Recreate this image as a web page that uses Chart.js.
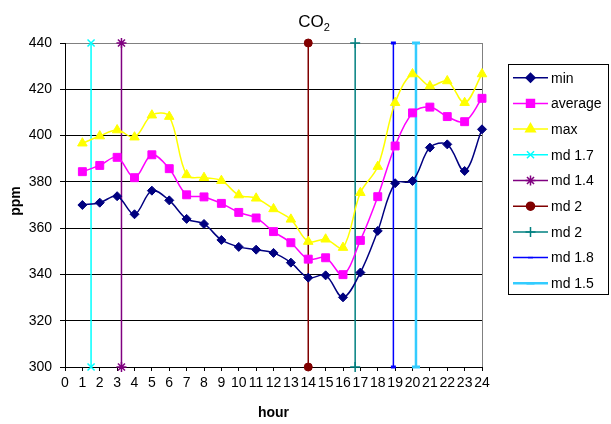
<!DOCTYPE html>
<html><head><meta charset="utf-8">
<script src="https://cdn.jsdelivr.net/npm/chart.js@4/dist/chart.umd.min.js"></script>
<style>html,body{margin:0;padding:0;background:#fff}</style>
</head><body>
<canvas id="c" width="611" height="424" style="width:611px;height:424px;display:block"></canvas>
<script>
const hours = [1,2,3,4,5,6,7,8,9,10,11,12,13,14,15,16,17,18,19,20,21,22,23,24];
const minVals = [370,371,373.8,366,376.2,372,364,361.8,354.9,351.9,350.7,349.3,345.1,338.6,339.6,330.1,340.8,358.8,379.4,380.4,394.8,396.2,384.7,402.7];
const avgVals = [384.4,387.1,390.6,381.8,391.7,385.7,374.4,373.5,370.7,366.8,364.4,358.5,353.7,346.6,347.2,339.9,354.7,373.6,395.5,409.8,412.3,408.2,406,416.1];
const maxVals = [396.7,399.8,402.4,399.3,408.8,408.2,383,381.8,380.5,374.3,372.9,368.3,363.8,354.2,355.2,351.6,375.3,386.6,414.2,426.6,421.4,423.6,414.2,426.6];
const markerNames = ['md 1.7','md 1.4','md 2','md 2','md 1.8','md 1.5'];
const markerHours = [1.5,3.25,14,16.7,18.9,20.2];
const markerRange = [300,440];
const xTicks = [0,1,2,3,4,5,6,7,8,9,10,11,12,13,14,15,16,17,18,19,20,21,22,23,24];
const yTicks = [300,320,340,360,380,400,420,440];

const FONT = '"Liberation Sans", Arial, sans-serif';

function series(label, vals, color, style, radius) {
  return {
    label, data: hours.map((h,i)=>({x:h,y:vals[i]})),
    borderColor: color, backgroundColor: color,
    pointBackgroundColor: color, pointBorderColor: color,
    pointStyle: style, pointRadius: radius, pointHoverRadius: radius,
    pointBorderWidth: 1, borderWidth: 1.5, tension: 0.35, clip: false
  };
}
const mdStyles = [
  {color:'#00FFFF', style:'crossRot', r:5, pbw:1.5, bw:1.5},
  {color:'#800080', style:'star', r:5, pbw:1.5, bw:1.5},
  {color:'#800000', style:'circle', r:4, pbw:1, bw:1.5},
  {color:'#008080', style:'cross', r:5, pbw:1.5, bw:1.5},
  {color:'#0000FF', style:'line', r:2.5, pbw:3, bw:1.5},
  {color:'#33CCFF', style:'line', r:4, pbw:3, bw:2.5}
];
const datasets = [
  series('min', minVals, '#000080', 'rectRot', 4.5),
  series('average', avgVals, '#FF00FF', 'rect', 5.6),
  series('max', maxVals, '#FFFF00', 'triangle', 5.5)
];
markerNames.forEach((n,i)=>{
  const s = mdStyles[i];
  datasets.push({
    label: n,
    data: markerRange.map(v=>({x:markerHours[i], y:v})),
    borderColor: s.color, backgroundColor: s.color,
    pointBackgroundColor: s.color, pointBorderColor: s.color,
    pointStyle: s.style, pointRadius: s.r, pointHoverRadius: s.r,
    pointBorderWidth: s.pbw, borderWidth: s.bw, tension: 0, clip: false
  });
});

const deco = {
  id: 'deco',
  beforeDatasetsDraw(chart) {
    const {ctx, chartArea:a} = chart;
    ctx.save();
    ctx.strokeStyle = '#808080'; ctx.lineWidth = 1;
    ctx.beginPath();
    ctx.moveTo(Math.round(a.right)+0.5, a.top);
    ctx.lineTo(Math.round(a.right)+0.5, a.bottom);
    ctx.stroke();
    ctx.restore();
  },
  afterDraw(chart) {
    const {ctx, chartArea:a} = chart;
    ctx.save();
    ctx.fillStyle = '#000';
    // title CO2
    ctx.font = '17px ' + FONT;
    ctx.textBaseline = 'alphabetic';
    ctx.textAlign = 'left';
    const w1 = ctx.measureText('CO').width;
    ctx.font = '11px ' + FONT;
    const w2 = ctx.measureText('2').width;
    const x0 = 314 - (w1 + w2) / 2;
    ctx.font = '17px ' + FONT;
    ctx.fillText('CO', x0, 27);
    ctx.font = '11px ' + FONT;
    ctx.fillText('2', x0 + w1, 31);
    // axis titles
    ctx.font = 'bold 14px ' + FONT;
    ctx.textAlign = 'center'; ctx.textBaseline = 'middle';
    ctx.fillText('hour', (a.left + a.right) / 2, 413);
    ctx.save();
    ctx.translate(16, 201);
    ctx.rotate(-Math.PI / 2);
    ctx.fillText('ppm', 0, 0);
    ctx.restore();
    // legend
    ctx.strokeStyle = '#000'; ctx.lineWidth = 1;
    ctx.strokeRect(508.5, 64.5, 100, 230);
    ctx.font = '14px ' + FONT;
    ctx.textAlign = 'left'; ctx.textBaseline = 'middle';
    chart.data.datasets.forEach((ds, i) => {
      const y = 77.7 + i * 25.7;
      ctx.strokeStyle = ds.borderColor; ctx.lineWidth = ds.borderWidth;
      ctx.beginPath(); ctx.moveTo(513, y); ctx.lineTo(548, y); ctx.stroke();
      ctx.fillStyle = ds.pointBackgroundColor; ctx.strokeStyle = ds.pointBorderColor;
      Chart.helpers.drawPoint(ctx, {pointStyle: ds.pointStyle, radius: ds.pointRadius, rotation: 0, borderWidth: ds.pointBorderWidth}, 530.5, y);
      ctx.fillStyle = '#000';
      ctx.fillText(ds.label, 551, y + 1);
    });
    ctx.restore();
  }
};

new Chart(document.getElementById('c'), {
  type: 'line',
  data: { datasets },
  options: {
    responsive: false, animation: false, devicePixelRatio: 1,
    layout: { padding: { top: 43, right: 129, left: 0, bottom: 0 } },
    plugins: { legend: { display: false }, title: { display: false }, tooltip: { enabled: false } },
    scales: {
      x: {
        type: 'linear', min: 0, max: 24,
        afterBuildTicks: s => { s.ticks = xTicks.map(v => ({value: v})); },
        afterFit: s => { s.height = 57; },
        ticks: { autoSkip: false, maxRotation: 0, padding: 4, color: '#000', font: { family: FONT, size: 14 } },
        grid: { drawOnChartArea: false, tickLength: 4, color: '#000', tickColor: '#000' },
        border: { color: '#000', width: 1 }
      },
      y: {
        min: 300, max: 440,
        afterBuildTicks: s => { s.ticks = yTicks.map(v => ({value: v})); },
        afterFit: s => { s.width = 65; },
        ticks: { padding: 8, color: '#000', font: { family: FONT, size: 14 } },
        grid: { tickLength: 5, color: c => (c.tick && c.tick.value === 440) ? '#808080' : '#000', tickColor: '#000' },
        border: { color: '#000', width: 1 }
      }
    }
  },
  plugins: [deco]
});
</script>
</body></html>
